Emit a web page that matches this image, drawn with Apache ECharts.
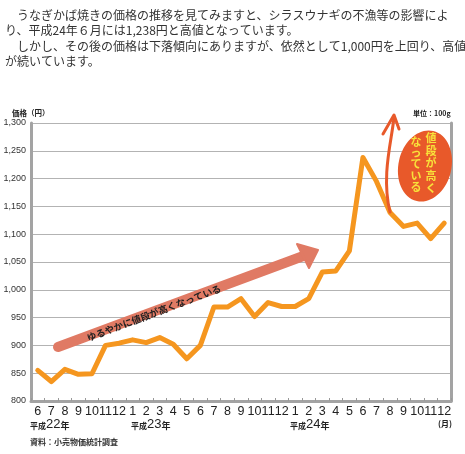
<!DOCTYPE html>
<html>
<head>
<meta charset="utf-8">
<script src="https://cdn.jsdelivr.net/npm/echarts@6/dist/echarts.min.js"></script>
<style>
html,body{margin:0;padding:0;background:#fff;}
#c{width:465px;height:454px;}
</style>
</head>
<body>
<div id="c"></div>
<script>
// ---- data ----
const months = ['6','7','8','9','10','11','12',
  '1','2','3','4','5','6','7','8','9','10','11','12',
  '1','2','3','4','5','6','7','8','9','10','11','12'];
const prices = [855, 835, 857, 848, 849, 900, 904,
  910, 905, 914, 902, 876, 900, 969, 969, 984, 952, 977, 970,
  970, 984, 1032, 1034, 1070, 1238, 1195, 1139, 1114, 1120, 1092, 1120];
const yearLabels = ['22', '23', '24'];
const paragraph = [
  '\u3000うなぎかば焼きの価格の推移を見てみますと、シラスウナギの不漁等の影響によ',
  'り、平成24年６月には1,238円と高値となっています。',
  '\u3000しかし、その後の価格は下落傾向にありますが、依然として1,000円を上回り、高値',
  'が続いています。'
];
const yMin = 800, yMax = 1300, yStep = 50;

const JP = '"Noto Sans CJK JP", "Noto Sans", sans-serif';
const chart = echarts.init(document.getElementById('c'));

const paraY = [15, 30, 46.5, 61.5];
const graphics = paragraph.map((t, i) => ({
  type: 'text', left: 5, top: paraY[i] - 6,
  style: { text: t, font: '12px ' + JP, fill: '#333' }
}));

function yearText(y, x) {
  return {
    type: 'text', x: x, y: 418,
    style: {
      text: '{a|平成}{b|' + y + '}{c|年}',
      rich: {
        a: { fontSize: 8, fontWeight: 'bold', fontFamily: JP, fill: '#222', padding: [3, 0, 0, 0] },
        b: { fontSize: 13, fontFamily: '"Liberation Sans", sans-serif', fill: '#222' },
        c: { fontSize: 9, fontWeight: 'bold', fontFamily: JP, fill: '#222', padding: [2, 0, 0, 0] }
      },
      textVerticalAlign: 'top'
    }
  };
}
graphics.push(yearText(yearLabels[0], 30));
graphics.push(yearText(yearLabels[1], 131));
graphics.push(yearText(yearLabels[2], 290));
graphics.push({ type: 'text', x: 438, y: 420,
  style: { text: '(月)', font: 'bold 8px ' + JP, fill: '#222' } });
graphics.push({ type: 'text', x: 30, y: 438,
  style: { text: '資料：小売物価統計調査', font: 'bold 8px ' + JP, fill: '#333' } });
graphics.push({ type: 'text', x: 12, y: 109,
  style: { text: '価格（円）', font: 'bold 7.5px ' + JP, fill: '#222' } });
graphics.push({ type: 'text', x: 413, y: 110,
  style: { text: '単位：100g', font: 'bold 7px ' + JP, fill: '#222' } });

// salmon arrow
graphics.push({ type: 'line', z: 50,
  shape: { x1: 58, y1: 347, x2: 306, y2: 255 },
  style: { stroke: '#e07a64', lineWidth: 10, lineCap: 'round' } });
graphics.push({ type: 'polygon', z: 50,
  shape: { points: [[318, 250], [297, 244], [309, 268]] },
  style: { fill: '#e07a64', stroke: '#e07a64', lineWidth: 2, lineJoin: 'round' } });
graphics.push({ type: 'text', z: 51, x: 154, y: 313, rotation: 0.36,
  style: { text: 'ゆるやかに値段が高くなっている', font: 'bold 9.5px ' + JP, fill: '#222',
    textAlign: 'center', textVerticalAlign: 'middle' } });

// red up arrow
graphics.push({ type: 'bezierCurve', z: 50,
  shape: { x1: 390, y1: 212, cpx1: 381, cpy1: 175, cpx2: 392, cpy2: 140, x2: 394, y2: 117 },
  style: { stroke: '#e8592a', lineWidth: 3, fill: null, lineCap: 'round' } });
graphics.push({ type: 'polyline', z: 50,
  shape: { points: [[383, 134], [394, 115], [399, 129]] },
  style: { stroke: '#e8592a', lineWidth: 3, lineCap: 'round', lineJoin: 'round', fill: null } });

// ellipse
graphics.push({ type: 'ellipse', z: 52, x: 425, y: 166, rotation: -0.23,
  shape: { cx: 0, cy: 0, rx: 26.5, ry: 36 },
  style: { fill: '#e8592a' } });
graphics.push({ type: 'text', z: 53, x: 431, y: 132,
  style: { text: '値\n段\nが\n高\nく', font: 'bold 11px ' + JP, fill: '#f8e23a',
    textAlign: 'center', lineHeight: 12.5 } });
graphics.push({ type: 'text', z: 53, x: 416, y: 136,
  style: { text: 'な\nっ\nて\nい\nる', font: 'bold 11px ' + JP, fill: '#f8e23a',
    textAlign: 'center', lineHeight: 11.3 } });

chart.setOption({
  animation: false,
  backgroundColor: '#fff',
  grid: { left: 31, right: 14, top: 123, bottom: 53 },
  xAxis: {
    type: 'category', data: months, boundaryGap: true,
    axisLine: { lineStyle: { color: '#a3a3a3', width: 3 } },
    axisTick: { show: true, inside: true, length: 3, lineStyle: { color: '#999', width: 1 } },
    axisLabel: { interval: 0, margin: 4, fontSize: 12.5, color: '#222',
      fontFamily: '"Liberation Sans", sans-serif' },
    splitLine: { show: false }
  },
  yAxis: [{
    type: 'value', min: yMin, max: yMax, interval: yStep,
    axisLine: { show: true, lineStyle: { color: '#a3a3a3', width: 3 } },
    axisTick: { show: false },
    axisLabel: { margin: 5, fontSize: 9, color: '#333', fontFamily: '"Liberation Sans", sans-serif',
      formatter: v => v.toLocaleString('en-US') },
    splitLine: { lineStyle: { color: '#b3b3b3', width: 1 } }
  }, {
    type: 'value', min: yMin, max: yMax, interval: yStep, position: 'right',
    axisLine: { show: true, lineStyle: { color: '#a3a3a3', width: 3 } },
    axisTick: { show: false }, axisLabel: { show: false }, splitLine: { show: false }
  }],
  series: [{
    type: 'line', data: prices, yAxisIndex: 0, symbol: 'none', z: 10,
    lineStyle: { color: '#f5961f', width: 5, cap: 'round', join: 'round' }
  }],
  graphic: graphics
});
</script>
</body>
</html>
